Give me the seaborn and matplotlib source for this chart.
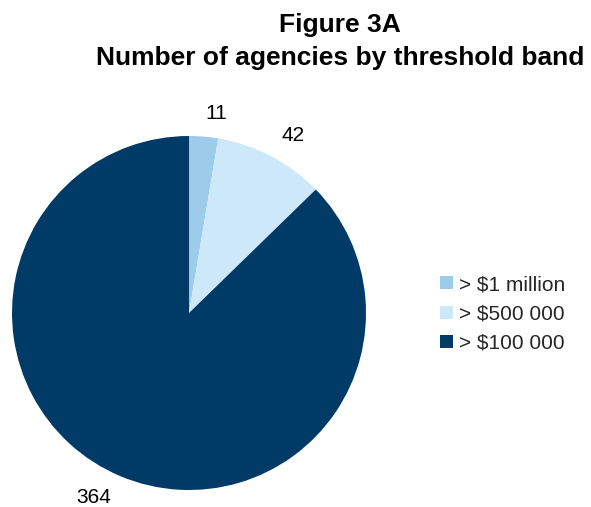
import matplotlib
matplotlib.use("Agg")
import matplotlib.pyplot as plt
import seaborn as sns

# Agencies per threshold band
bands = ["> $1 million", "> $500 000", "> $100 000"]
agencies = [11, 42, 364]
band_colors = ["#9dcbea", "#cde9f9", "#003a66"]

sns.set_theme(style="white")
plt.rcParams["font.family"] = ["Liberation Sans", "DejaVu Sans"]

palette = sns.color_palette(band_colors)

fig = plt.figure(figsize=(5.91, 5.07), dpi=100)
fig.patch.set_facecolor("white")

# square axes holding the pie (radius 1 in data units)
ax = fig.add_axes([12 / 591, 17 / 507, 354 / 591, 354 / 507])

wedges, texts = ax.pie(
    agencies,
    labels=[str(v) for v in agencies],
    colors=palette,
    startangle=90,
    counterclock=False,
    labeldistance=1.13,
    wedgeprops=dict(linewidth=0, edgecolor="none"),
    textprops=dict(fontsize=15, color="black"),
)
ax.set_xlim(-1, 1)
ax.set_ylim(-1, 1)
ax.set_aspect("equal")
ax.axis("off")

fig.text(
    340 / 591, 1 - 13 / 507,
    "Figure 3A\nNumber of agencies by threshold band",
    ha="center", va="top", fontsize=19, fontweight="bold",
    linespacing=1.45, color="black",
)

fig.legend(
    wedges, bands,
    loc="center left",
    bbox_to_anchor=(440 / 591, (507 - 314) / 507),
    frameon=False,
    fontsize=15,
    handlelength=0.6,
    handleheight=0.6,
    handletextpad=0.3,
    labelspacing=0.5,
    borderpad=0,
    borderaxespad=0,
)

fig.savefig("out.png", dpi=100, facecolor="white")
